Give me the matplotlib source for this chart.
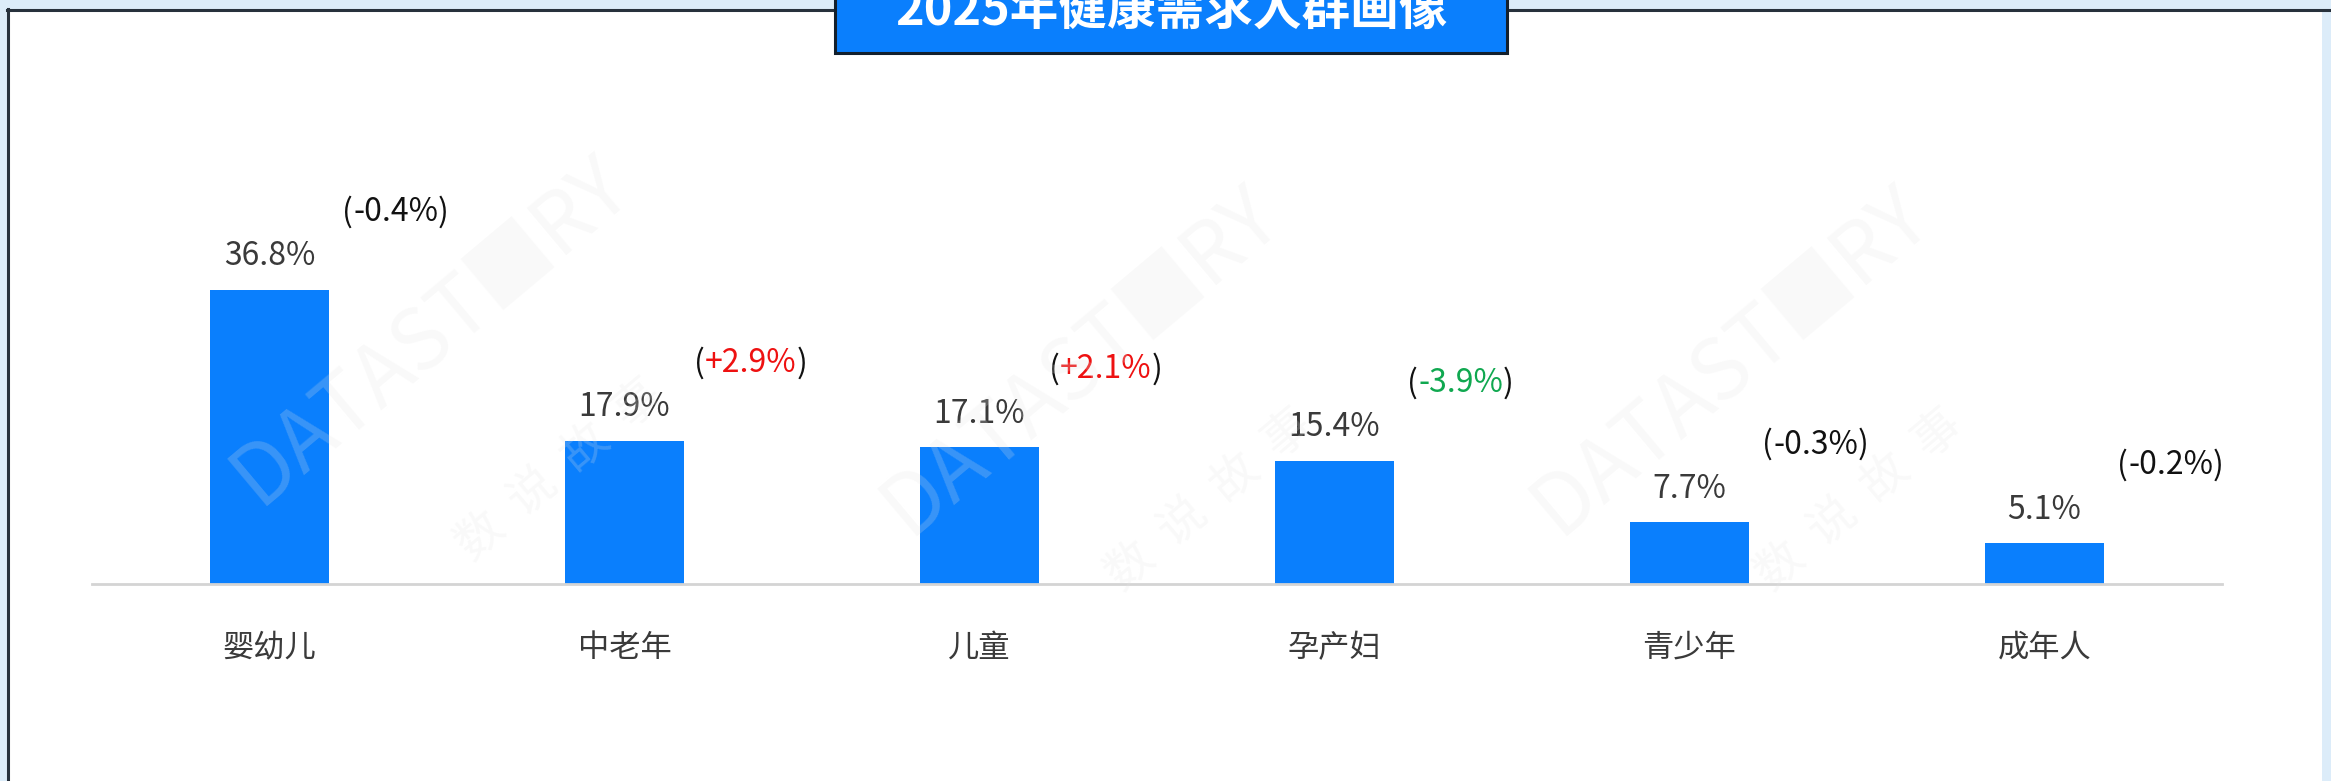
import matplotlib
matplotlib.use("Agg")
import matplotlib.pyplot as plt
from matplotlib.patches import Rectangle

plt.rcParams['font.family'] = ['Noto Sans CJK SC', 'DejaVu Sans']

# ---- data ----
categories = ['婴幼儿', '中老年', '儿童', '孕产妇', '青少年', '成年人']
shares = [36.8, 17.9, 17.1, 15.4, 7.7, 5.1]
changes = [-0.4, 2.9, 2.1, -3.9, -0.3, -0.2]
title = '2025年健康需求人群画像'

W, H, DPI = 2331, 781, 100
fig = plt.figure(figsize=(W / DPI, H / DPI), dpi=DPI)
fig.patch.set_facecolor('#dcecf9')

def fx(px):
    return px / W

def fy(py):
    return 1 - py / H

# white panel with dark left/top border
panel = Rectangle((fx(7), 0), fx(2322) - fx(7), fy(9), transform=fig.transFigure,
                  facecolor='white', edgecolor='none', zorder=-5)
fig.patches.append(panel)
fig.add_artist(plt.Line2D([fx(8), fx(8)], [0, fy(9)], color='#27313c', lw=2.2,
                          transform=fig.transFigure, zorder=-4))
fig.add_artist(plt.Line2D([fx(7), 1], [fy(9.5), fy(9.5)], color='#27313c', lw=2.2,
                          transform=fig.transFigure, zorder=-4))

# axes
ax = fig.add_axes([fx(92), fy(584), fx(2222) - fx(92), (584 - 104) / H])
ax.set_zorder(1)
ax.set_facecolor('none')
x = list(range(len(categories)))
bar_color = '#0a7ffd'
ax.bar(x, shares, width=0.335, color=bar_color, zorder=2)
ax.set_xlim(-0.5, len(categories) - 0.5)
ax.set_ylim(0, 60)
for s in ['top', 'right', 'left']:
    ax.spines[s].set_visible(False)
ax.spines['bottom'].set_color('#d4d4d4')
ax.spines['bottom'].set_linewidth(2)
ax.set_yticks([])
ax.set_xticks([])

label_color = '#3a3a3a'
for xi, cat in zip(x, categories):
    ax.annotate(cat, xy=(xi, 0), xytext=(0, -46), textcoords='offset points',
                ha='center', va='center', fontsize=22.5, color=label_color,
                annotation_clip=False)

for xi, v, c in zip(x, shares, changes):
    ax.annotate(f'{v:.1f}%', xy=(xi, v), xytext=(0, 24), textcoords='offset points',
                ha='center', va='center', fontsize=23, color=label_color)
    if c > 1:
        col = '#ee1111'
    elif c < -1:
        col = '#10a850'
    else:
        col = '#111111'
    inner = ax.annotate(f'{c:+.1f}%', xy=(xi + 0.355, v), xytext=(0, 56),
                        textcoords='offset points', ha='center', va='center',
                        fontsize=23, color=col)
    ax.annotate('(', xy=(0, 0.5), xycoords=inner, ha='right', va='center',
                fontsize=23, color='#111111')
    ax.annotate(')', xy=(1, 0.5), xycoords=inner, ha='left', va='center',
                fontsize=23, color='#111111')

# title box
box = Rectangle((fx(835), fy(53)), fx(1507) - fx(835), 1 - fy(53) + 0.05,
                transform=fig.transFigure, facecolor='#0a7ffd', edgecolor='#13202d',
                lw=2.2, zorder=5, clip_on=False)
fig.patches.append(box)
fig.text(fx(1171), fy(25), title, ha='center', va='baseline', fontsize=35,
         fontweight='bold', color='white', zorder=6)

# faint watermark
wm_kw = dict(transform=fig.transFigure, rotation=40, ha='center', va='center',
             color='#e4e4e4', alpha=0.22, zorder=7)
for cx, cy in [(430, 330), (1080, 360), (1730, 360)]:
    fig.text(fx(cx), fy(cy), 'DATAST■RY', fontsize=60, **wm_kw)
for cx, cy in [(560, 470), (1210, 500), (1860, 500)]:
    fig.text(fx(cx), fy(cy), '数  说  故  事', fontsize=34, **wm_kw)

fig.savefig('out.png', dpi=DPI, facecolor=fig.get_facecolor())
